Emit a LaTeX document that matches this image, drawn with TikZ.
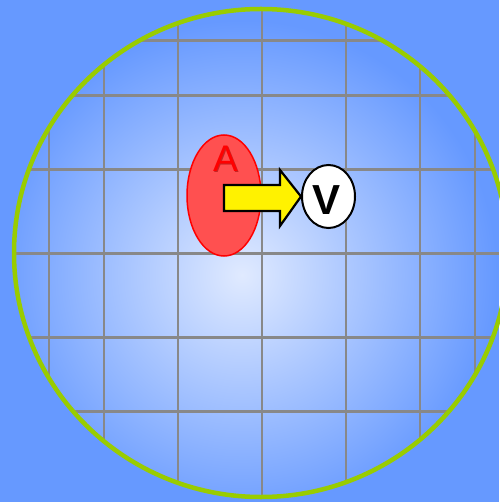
\documentclass[tikz,border=0pt]{standalone}
\usepackage{fontspec}
\setmainfont{Liberation Sans}
\usetikzlibrary{shapes.geometric}
\definecolor{bgblue}{HTML}{6699FF}
\definecolor{lightblue}{HTML}{E0EAFF}
\definecolor{ringgreen}{HTML}{99CC00}
\definecolor{gridgray}{HTML}{888888}
\definecolor{redfill}{HTML}{FF5050}
\definecolor{shadowred}{HTML}{990000}
\tikzset{
  gridline/.style={draw=gridgray, line width=2.6},
  ring/.style={draw=ringgreen, line width=4.5},
  blob/.style={ellipse, draw=red, fill=redfill, line width=1.5, inner sep=0},
  vnode/.style={ellipse, draw=black, fill=white, line width=2, inner sep=0},
  fatarrow/.style={draw=black, fill=yellow, line width=2.2, line join=miter},
}
\begin{document}
\begin{tikzpicture}[x=1pt,y=-1pt]
\useasboundingbox (0,0) rectangle (499,502);
\fill[bgblue] (0,0) rectangle (499,502);
\begin{scope}
  \clip (261,253) ellipse [x radius=247, y radius=244];
  \shade[inner color=lightblue, outer color=bgblue] (242,275) circle (255);
  \foreach \a in {-60,-40,-20,0,20,40,60}
    \draw[gridline] ({262+246*sin(\a)},0) -- ({262+246*sin(\a)},502);
  \foreach \a in {-60,-40,-20,0,20,40}
    \draw[gridline] (0,{253.5+246*sin(\a)}) -- (499,{253.5+246*sin(\a)});
\end{scope}
\draw[ring] (261,253) ellipse [x radius=247, y radius=244];

\node[blob, minimum width=74, minimum height=121] (Aell) at (224,195.5) {};
\node[text=shadowred, opacity=0.55, inner sep=0] (Ashadow) at (226.5,159.5) {\fontsize{37}{37}\selectfont A};
\node[text=red, inner sep=0] (Alab) at (225.5,158.5) {\fontsize{37}{37}\selectfont A};

\node[vnode, minimum width=53, minimum height=63] (V) at (328.5,196.5) {};
\node[inner sep=0] (Vlab) at (326.5,200) {\fontsize{42}{42}\selectfont\bfseries V};

\coordinate (tail) at (224,198);
\draw[fatarrow] ([yshift=-13]tail) -- ([yshift=-13]tail -| 280,0) -- ([yshift=-28]tail -| 280,0)
  -- (V.west) -- ([yshift=28]tail -| 280,0) -- ([yshift=13]tail -| 280,0) -- ([yshift=13]tail) -- cycle;
\end{tikzpicture}
\end{document}
